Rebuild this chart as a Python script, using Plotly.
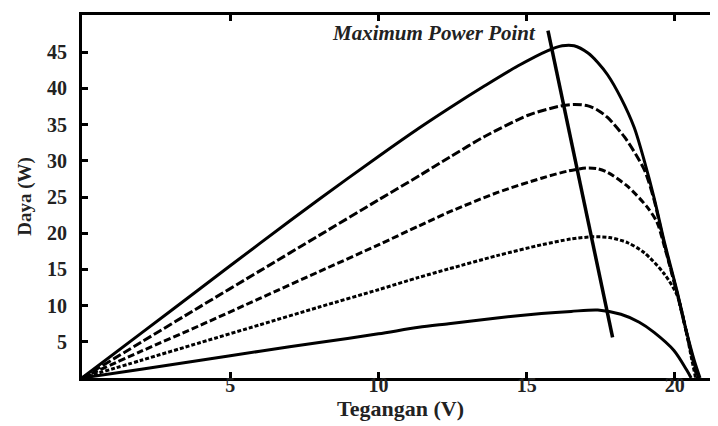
import plotly.graph_objects as go

# ---- data ----
v1 = [0, 2, 4, 6, 8, 10, 11.4, 12.4, 13.6, 14.7, 15.7, 16.2, 16.6, 17.07, 17.4, 17.73, 18.18, 18.63, 18.97, 19.3, 19.64, 20.08, 20.4, 20.65, 20.85]
p1 = [0, 6.2, 12.4, 18.6, 24.7, 30.6, 34.6, 37.3, 40.4, 43.1, 45.2, 45.9, 45.9, 44.9, 43.6, 41.9, 38.7, 34.6, 30.0, 24.9, 18.9, 11.9, 6.3, 2.5, 0]

v2 = [0, 2, 4, 6, 8, 10, 11.4, 12.4, 13.6, 15.05, 16.06, 16.6, 17.07, 17.4, 17.73, 18.3, 18.74, 19.0, 19.3, 19.64, 20.08, 20.4, 20.62, 20.8]
p2 = [0, 4.95, 9.9, 14.8, 19.7, 24.6, 28.0, 30.5, 33.4, 36.3, 37.5, 37.8, 37.6, 37.0, 36.0, 33.3, 30.5, 28.5, 24.6, 18.6, 11.7, 6.2, 2.5, 0]

v3 = [0, 2, 4, 6, 8, 10, 11.36, 12.37, 14, 15.5, 16.4, 17.0, 17.4, 17.73, 18.4, 19.07, 19.4, 19.64, 20.08, 20.4, 20.6, 20.75]
p3 = [0, 3.7, 7.3, 11.0, 14.7, 18.4, 21.0, 22.9, 25.6, 27.6, 28.6, 29.0, 28.9, 28.4, 26.5, 23.6, 21.5, 18.3, 11.6, 6.1, 2.6, 0]

v4 = [0, 2, 4, 6, 8, 10, 11.36, 12.37, 14, 15.5, 16.5, 17.2, 17.8, 18.4, 18.97, 19.64, 20.08, 20.4, 20.55, 20.7]
p4 = [0, 2.45, 4.9, 7.35, 9.8, 12.2, 13.9, 15.07, 16.9, 18.4, 19.2, 19.5, 19.4, 18.7, 17.3, 14.4, 11.4, 6.1, 3.0, 0]

v5 = [0, 2, 4, 6, 8, 10, 11.36, 12.37, 14, 15.5, 16.5, 17.4, 18.18, 18.8, 19.3, 19.97, 20.4, 20.55]
p5 = [0, 1.22, 2.44, 3.7, 4.9, 6.1, 7.0, 7.5, 8.3, 8.9, 9.2, 9.4, 8.8, 7.7, 6.3, 3.8, 1.1, 0]

mpp_v = [15.72, 17.9]
mpp_p = [48.0, 5.6]

x_ticks = [5, 10, 15, 20]
y_ticks = [5, 10, 15, 20, 25, 30, 35, 40, 45]

x_title = "Tegangan (V)"
y_title = "Daya (W)"
mpp_label = "Maximum Power Point"

series = [
    (v1, p1, "solid"),
    (v2, p2, "9px,3px"),
    (v3, p3, "7px,3px"),
    (v4, p4, "4px,2px"),
    (v5, p5, "solid"),
]

FONT = "Liberation Serif"

fig = go.Figure()
for v, p, dash in series:
    fig.add_trace(go.Scatter(
        x=v, y=p, mode="lines",
        line=dict(color="black", width=3, dash=dash, shape="spline", smoothing=0.8),
        showlegend=False, hoverinfo="skip",
    ))

fig.add_trace(go.Scatter(
    x=mpp_v, y=mpp_p, mode="lines",
    line=dict(color="black", width=3.5),
    showlegend=False, hoverinfo="skip",
))

fig.add_annotation(
    x=15.38, y=47.6, xref="x", yref="y", xanchor="right", yanchor="middle",
    text="<b><i>" + mpp_label + "</i></b>", showarrow=False,
    font=dict(family=FONT, size=21, color="#222"),
)

fig.update_layout(
    width=718, height=426,
    margin=dict(l=73.5, r=4, t=5.5, b=56.3),
    paper_bgcolor="white", plot_bgcolor="white",
    font=dict(family=FONT, size=19, color="#222"),
    xaxis=dict(
        range=[0, 21.49], tickvals=x_ticks, ticktext=[str(t) for t in x_ticks],
        ticks="inside", ticklen=6, tickwidth=2.5, tickcolor="black",
        showline=True, linecolor="black", linewidth=3, mirror="ticks",
        showgrid=False, zeroline=False,
        tickfont=dict(family=FONT, size=20, color="#222", weight="bold"),
        ticklabelstandoff=-13,
        title=dict(text="<b>" + x_title + "</b>", font=dict(family=FONT, size=22, color="#222"), standoff=0),
    ),
    yaxis=dict(
        range=[0, 50.15], tickvals=y_ticks, ticktext=[str(t) for t in y_ticks],
        ticks="inside", ticklen=6, tickwidth=2.5, tickcolor="black",
        showline=True, linecolor="black", linewidth=3, mirror="ticks",
        showgrid=False, zeroline=False,
        tickfont=dict(family=FONT, size=20, color="#222", weight="bold"),
        ticklabelstandoff=8,
        title=dict(text="<b>" + y_title + "</b>", font=dict(family=FONT, size=19, color="#222"), standoff=11),
    ),
)

fig.write_html("out.html")
